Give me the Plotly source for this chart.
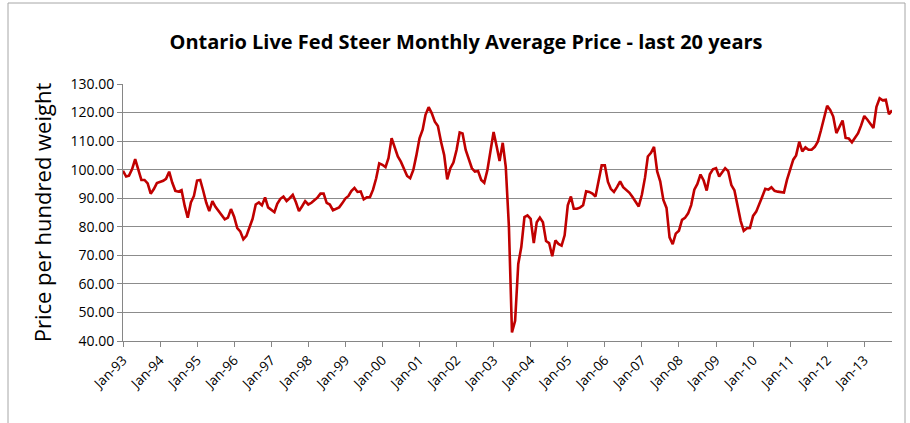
import pandas as pd
import plotly.graph_objects as go

# Monthly average price ($ per hundred weight), Jan-1993 .. Oct-2013
p1993 = [99.6, 97.6, 97.9, 100.2, 103.7, 100.0, 96.4, 96.4, 95.2, 91.6, 93.2, 95.3]
p1994 = [95.6, 96.1, 96.8, 99.3, 95.5, 92.6, 92.3, 92.8, 87.3, 83.2, 88.5, 90.8]
p1995 = [96.2, 96.4, 92.8, 88.5, 85.5, 89.0, 87.0, 85.6, 84.0, 82.6, 83.2, 86.2]
p1996 = [83.5, 79.5, 78.4, 75.6, 76.8, 79.8, 82.8, 87.8, 88.5, 87.5, 90.3, 86.8]
p1997 = [85.8, 85.1, 88.0, 89.8, 90.6, 89.0, 90.0, 91.2, 88.6, 85.5, 87.2, 89.0]
p1998 = [87.8, 88.4, 89.3, 90.2, 91.6, 91.6, 88.4, 87.8, 85.8, 86.3, 86.8, 88.2]
p1999 = [89.9, 90.8, 92.5, 93.6, 92.2, 92.4, 89.6, 90.3, 90.4, 93.0, 97.0, 102.2]
p2000 = [101.7, 100.9, 104.0, 111.0, 108.1, 104.6, 102.8, 100.5, 97.8, 97.0, 99.9, 105.0]
p2001 = [111.0, 114.0, 119.2, 121.9, 119.8, 116.8, 115.3, 109.8, 105.1, 96.6, 100.5, 102.5]
p2002 = [106.9, 113.0, 112.7, 106.9, 103.6, 100.5, 99.3, 99.5, 96.4, 95.4, 99.9, 106.3]
p2003 = [113.2, 108.0, 103.0, 109.4, 101.0, 80.0, 43.0, 47.1, 67.0, 72.9, 83.4, 84.0]
p2004 = [82.8, 74.3, 81.6, 83.2, 81.6, 75.0, 74.3, 69.7, 75.2, 74.0, 73.4, 77.0]
p2005 = [87.5, 90.6, 86.3, 86.3, 86.7, 87.5, 92.4, 92.2, 91.6, 90.6, 95.7, 101.5]
p2006 = [101.5, 95.7, 93.3, 92.2, 93.9, 95.9, 93.9, 93.0, 91.9, 90.4, 88.6, 87.1]
p2007 = [91.2, 97.2, 104.6, 105.9, 108.0, 99.4, 95.9, 89.4, 86.6, 76.3, 73.9, 77.6]
p2008 = [78.6, 82.4, 83.1, 84.7, 87.6, 93.0, 95.0, 98.3, 96.2, 92.7, 98.4, 100.1]
p2009 = [100.5, 97.6, 99.0, 100.5, 99.5, 94.6, 92.8, 87.0, 82.0, 78.6, 79.5, 79.6]
p2010 = [83.8, 85.3, 87.5, 90.5, 93.3, 93.0, 93.8, 92.6, 92.3, 92.1, 92.0, 96.4]
p2011 = [99.8, 103.5, 105.0, 109.8, 106.4, 107.8, 107.0, 107.0, 108.0, 109.8, 113.8, 118.0]
p2012 = [122.4, 120.8, 118.6, 112.8, 115.1, 117.2, 111.1, 110.9, 109.6, 111.4, 112.8, 115.5]
p2013 = [118.8, 117.5, 116.0, 114.6, 122.0, 125.0, 124.3, 124.5, 119.4, 120.8]

prices = (p1993 + p1994 + p1995 + p1996 + p1997 + p1998 + p1999 + p2000 + p2001
          + p2002 + p2003 + p2004 + p2005 + p2006 + p2007 + p2008 + p2009 + p2010
          + p2011 + p2012 + p2013)
months = pd.date_range("1993-01-01", periods=len(prices), freq="MS")

fig = go.Figure()
fig.add_trace(go.Scatter(
    x=months, y=prices, mode="lines",
    line=dict(color="#C00000", width=2.6),
    showlegend=False,
))

W, H = 910, 423
L, R, T, B = 123, 18, 84, 82
pw, ph = W - L - R, H - T - B

def px_x(v):
    return (v - L) / pw

def px_y(v):
    return (H - B - v) / ph

fig.update_layout(
    width=W, height=H,
    margin=dict(l=L, r=R, t=T, b=B, autoexpand=False),
    paper_bgcolor="white", plot_bgcolor="white",
    font=dict(family="Open Sans, Liberation Sans, sans-serif", color="#000000"),
    title=dict(
        text="Ontario Live Fed Steer Monthly Average Price - last 20 years",
        x=466 / W, xanchor="center", xref="container",
        y=1 - 42 / H, yanchor="middle", yref="container",
        font=dict(size=20, weight="bold", color="#000000"),
    ),
    xaxis=dict(
        type="date", automargin=False,
        range=[months[0], months[-1]],
        tick0="1993-01-01", dtick="M12", tickformat="%b-%y",
        tickangle=-45, tickfont=dict(size=13.5, color="#000000"),
        showgrid=False, showline=True, linecolor="#868686", linewidth=1,
        ticks="outside", ticklen=5, tickcolor="#868686",
        zeroline=False,
    ),
    yaxis=dict(
        automargin=False,
        range=[40, 130], dtick=10, tick0=40, tickformat=".2f",
        tickfont=dict(size=14, color="#000000"),
        showgrid=True, gridcolor="#8C8C8C", gridwidth=1,
        showline=True, linecolor="#868686", linewidth=1,
        ticks="outside", ticklen=5, tickcolor="#868686",
        zeroline=False,
        title=dict(text="Price per hundred weight", font=dict(size=22, color="#000000"), standoff=12),
    ),
    shapes=[dict(
        type="rect", xref="paper", yref="paper",
        x0=px_x(8), x1=px_x(905), y0=px_y(440), y1=px_y(3),
        line=dict(color="#A6A6A6", width=1), fillcolor="rgba(0,0,0,0)", layer="below",
    )],
)

fig.write_html(
    "out.html",
    config={"displayModeBar": False},
    post_script="document.body.style.margin='0px';document.body.style.overflow='hidden';",
)
